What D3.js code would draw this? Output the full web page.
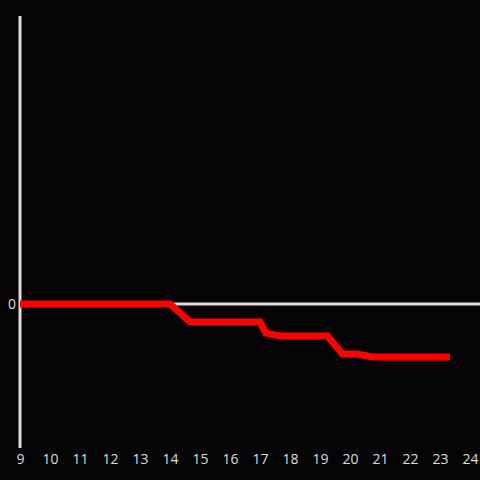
<!DOCTYPE html>
<html><head><meta charset="utf-8">
<script src="https://cdn.jsdelivr.net/npm/d3@7"></script>
<style>html,body{margin:0;padding:0;background:#050306;}svg{display:block;}</style>
</head><body>
<script>
const hours = [9, 14, 14.67, 17.0, 17.2, 17.67, 19.25, 19.75, 20.25, 20.75, 23.33];
const values = [0, 0, -6.25, -6.25, -10.1, -11.1, -11.1, -17.4, -17.4, -18.4, -18.4];
const xTicks = [9,10,11,12,13,14,15,16,17,18,19,20,21,22,23,24];
const yTicks = [0];

const W = 480, H = 480;
const svg = d3.select("body").append("svg").attr("width", W).attr("height", H);
svg.append("rect").attr("width", W).attr("height", H).attr("fill", "#050306");

const x = d3.scaleLinear().domain([9, 24]).range([20, 470]);
const y = d3.scaleLinear().domain([-50, 100]).range([448, 16]);

const font = "'Open Sans', sans-serif";
const axisColor = "#dddddd";

// y axis line
svg.append("line").attr("x1", 20).attr("x2", 20).attr("y1", 16).attr("y2", 448)
  .attr("stroke", axisColor).attr("stroke-width", 3);
// zero line
svg.append("line").attr("x1", 20).attr("x2", 480).attr("y1", y(0)).attr("y2", y(0))
  .attr("stroke", axisColor).attr("stroke-width", 3);

// x axis labels
const xa = d3.axisBottom(x).tickValues(xTicks).tickSize(0).tickPadding(0).tickFormat(d3.format("d"));
const gx = svg.append("g").attr("transform", "translate(0,454)").call(xa);
gx.select(".domain").remove();
gx.selectAll("text").attr("fill", axisColor).attr("font-size", 14).attr("font-family", font).attr("dy", "0.71em");

// y axis labels
const ya = d3.axisLeft(y).tickValues(yTicks).tickSize(0).tickPadding(4);
const gy = svg.append("g").attr("transform", "translate(20,0)").call(ya);
gy.select(".domain").remove();
gy.selectAll("text").attr("fill", axisColor).attr("font-size", 14).attr("font-family", font);

const data = hours.map((h, i) => [h, values[i]]);
svg.append("path").datum(data)
  .attr("d", d3.line().x(d => x(d[0])).y(d => y(d[1])))
  .attr("fill", "none").attr("stroke", "#ff0000").attr("stroke-width", 7)
  .attr("stroke-linejoin", "miter");
</script>
</body></html>
